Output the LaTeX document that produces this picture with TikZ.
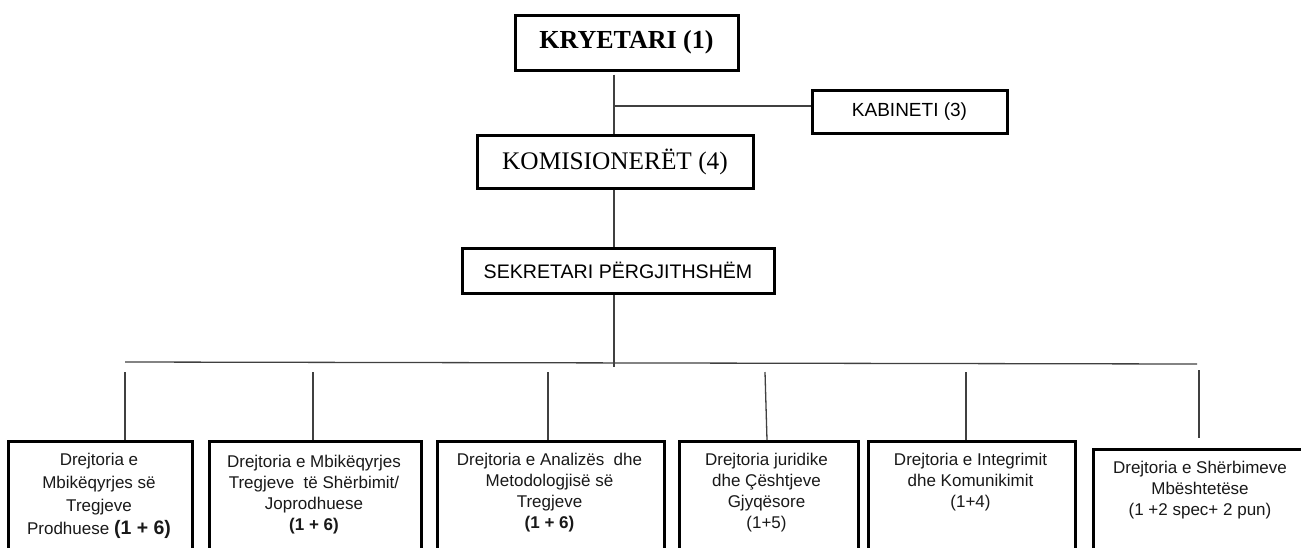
\documentclass[tikz,border=0pt]{standalone}
\usepackage{fontspec}
\setmainfont{Liberation Serif}
\newfontfamily\arial{Liberation Sans}
\begin{document}
\begin{tikzpicture}[x=1pt,y=-1pt,
  topbox/.style={draw=black,line width=3pt,fill=white,inner sep=0pt,anchor=center},
  dbox/.style={draw=black,line width=3pt,fill=white,inner sep=0pt,anchor=north west},
  dtext/.style={anchor=north,inner sep=0pt,align=center,font=\arial\fontsize{17}{21}\selectfont,text=black!90},
  conn/.style={draw=black!75,line width=1.3pt}]
\useasboundingbox (0,0) rectangle (1301,547);
\clip (0,0) rectangle (1301,547);
% top boxes
\node[topbox,minimum width=223pt,minimum height=55pt] (kry) at (626.5,42.5)
  {\fontsize{26}{30}\selectfont\bfseries KRYETARI (1)};
\node[topbox,minimum width=195pt,minimum height=43pt] (kab) at (909.5,111.5)
  {\arial\fontsize{19}{22}\selectfont KABINETI (3)};
\node[topbox,minimum width=276pt,minimum height=53pt] (kom) at (615,161.5)
  {\fontsize{25.3}{29}\selectfont KOMISIONERËT (4)};
\node[topbox,minimum width=312pt,minimum height=45pt] (sek) at (618,270.5)
  {\arial\fontsize{19.6}{23}\selectfont SEKRETARI PËRGJITHSHËM};
% bottom boxes
\node[dbox,minimum width=184pt,minimum height=140pt] (d1) at (7,440) {};
\node[dbox,minimum width=212pt,minimum height=140pt] (d2) at (208,440) {};
\node[dbox,minimum width=227pt,minimum height=140pt] (d3) at (436,440) {};
\node[dbox,minimum width=179pt,minimum height=140pt] (d4) at (678,440) {};
\node[dbox,minimum width=207pt,minimum height=140pt] (d5) at (867,440) {};
\node[dbox,minimum width=216pt,minimum height=140pt] (d6) at (1092,448) {};
\node[dtext,font=\arial\fontsize{17}{23}\selectfont] (t1) at (99,453)
  {Drejtoria e\\Mbikëqyrjes së\\Tregjeve\\Prodhuese {\fontsize{19.5}{23}\selectfont\bfseries (1 + 6)}};
\node[dtext] (t2) at (314,455)
  {Drejtoria e Mbikëqyrjes\\Tregjeve\ \ të Shërbimit/\\Joprodhuese\\\textbf{(1 + 6)}};
\node[dtext] (t3) at (549.5,453)
  {Drejtoria e Analizës\ \ dhe\\Metodologjisë së\\Tregjeve\\\textbf{(1 + 6)}};
\node[dtext] (t4) at (766.5,453)
  {Drejtoria juridike\\dhe Çështjeve\\Gjyqësore\\(1+5)};
\node[dtext] (t5) at (970.5,453)
  {Drejtoria e Integrimit\\dhe Komunikimit\\(1+4)};
\node[dtext] (t6) at (1200,461)
  {Drejtoria e Shërbimeve\\Mbështetëse\\(1 +2 spec+ 2 pun)};
% connectors
\coordinate (trunk) at (614,0);
\coordinate (br) at (614,106);
\coordinate (sekend) at (614,367);
\coordinate (busL) at (125,362);
\coordinate (busR) at (1197,364);
\coordinate (p1) at (125,372);
\coordinate (p2) at (313,372);
\coordinate (p3) at (548,372);
\coordinate (p4) at (765,372);
\coordinate (p5) at (966,372);
\coordinate (p6) at (1199,370);
\draw[conn] ([yshift=-3pt]kry.south -| trunk) -- (kom.north -| trunk);
\draw[conn] (br) -- (br -| kab.west);
\draw[conn] (kom.south -| trunk) -- (sek.north -| trunk);
\draw[conn] (sek.south -| trunk) -- (sekend);
\draw[conn] (busL) -- (busR);
\draw[conn] (p1) -- (p1 |- d1.north);
\draw[conn] (p2) -- (p2 |- d2.north);
\draw[conn] (p3) -- (p3 |- d3.north);
\draw[conn] (p4) -- ([xshift=2pt]p4 |- d4.north);
\draw[conn] (p5) -- (p5 |- d5.north);
\draw[conn] (p6) -- ([yshift=10pt]p6 |- d6.north);
\end{tikzpicture}
\end{document}
